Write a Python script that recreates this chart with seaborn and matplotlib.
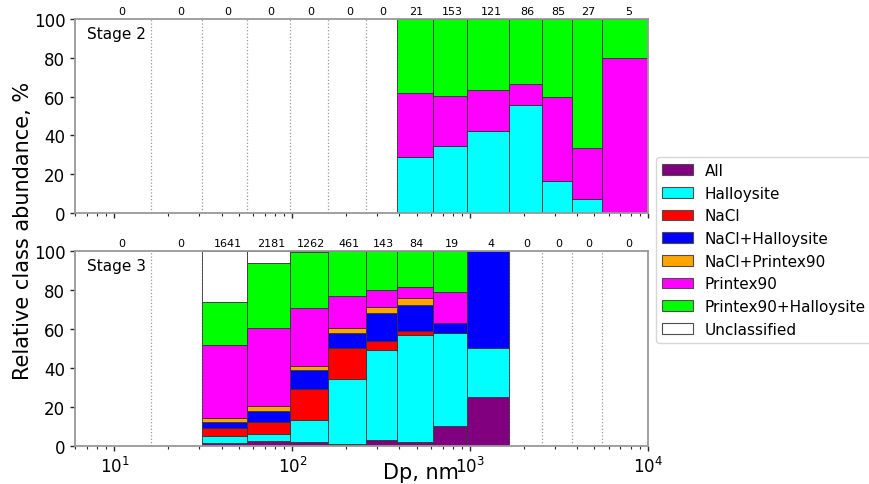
import numpy as np
import pandas as pd
import seaborn as sns
import matplotlib.pyplot as plt
from matplotlib.patches import Patch

# Size bin edges (nm) of the impactor stages
edges = [6, 16, 31, 55.5, 96.5, 158, 261, 386, 615, 963, 1663, 2523, 3752, 5534, 10000]

classes = ["All", "Halloysite", "NaCl", "NaCl+Halloysite", "NaCl+Printex90",
           "Printex90", "Printex90+Halloysite", "Unclassified"]
colors = ["purple", "cyan", "red", "blue", "orange", "magenta", "lime", "white"]

# Particle counts per bin
counts_s2 = [0, 0, 0, 0, 0, 0, 0, 21, 153, 121, 86, 85, 27, 5]
counts_s3 = [0, 0, 1641, 2181, 1262, 461, 143, 84, 19, 4, 0, 0, 0, 0]

# Stage 2, class abundance (%) per bin
s2_all = [0] * 14
s2_hal = [0, 0, 0, 0, 0, 0, 0, 28.6, 34.6, 42.1, 55.8, 16.5, 7.4, 0]
s2_nacl = [0] * 14
s2_naclhal = [0] * 14
s2_naclpr = [0] * 14
s2_pr = [0, 0, 0, 0, 0, 0, 0, 33.3, 25.5, 21.5, 10.5, 43.5, 25.9, 80]
s2_prhal = [0, 0, 0, 0, 0, 0, 0, 38.1, 39.9, 36.4, 33.7, 40.0, 66.7, 20]
s2_uncl = [0] * 14

# Stage 3, class abundance (%) per bin
s3_all = [0, 0, 1.3, 2.4, 2.0, 1.0, 3.2, 2.2, 10.5, 25, 0, 0, 0, 0]
s3_hal = [0, 0, 3.9, 3.5, 11.4, 33.6, 45.9, 54.7, 47.4, 25, 0, 0, 0, 0]
s3_nacl = [0, 0, 4.0, 6.5, 16.0, 15.6, 4.9, 2.3, 0, 0, 0, 0, 0, 0]
s3_naclhal = [0, 0, 3.0, 5.7, 9.8, 7.8, 14.1, 13.1, 5.3, 50, 0, 0, 0, 0]
s3_naclpr = [0, 0, 1.9, 2.5, 2.0, 2.7, 3.4, 3.5, 0, 0, 0, 0, 0, 0]
s3_pr = [0, 0, 37.6, 39.9, 29.6, 16.3, 8.4, 5.9, 15.7, 0, 0, 0, 0, 0]
s3_prhal = [0, 0, 22.4, 33.6, 28.7, 23.0, 20.1, 18.3, 21.1, 0, 0, 0, 0, 0]
s3_uncl = [0, 0, 25.9, 5.9, 0.5, 0, 0, 0, 0, 0, 0, 0, 0, 0]

stage2 = [s2_all, s2_hal, s2_nacl, s2_naclhal, s2_naclpr, s2_pr, s2_prhal, s2_uncl]
stage3 = [s3_all, s3_hal, s3_nacl, s3_naclhal, s3_naclpr, s3_pr, s3_prhal, s3_uncl]

sns.set_theme(style="ticks", rc={"text.color": "black", "axes.labelcolor": "black",
                                 "xtick.color": "black", "ytick.color": "black"})
plt.rcParams["font.family"] = ["DejaVu Sans"]

palette = dict(zip(classes, colors))
log_edges = [float(v) for v in np.log10(edges)]
mids = np.sqrt(np.array(edges[:-1]) * np.array(edges[1:]))
centers = (np.array(edges[:-1]) + np.array(edges[1:])) / 2


def draw_stage(ax, table, counts, name):
    rows = []
    for cls, vals in zip(classes, table):
        for m, v in zip(mids, vals):
            rows.append((m, cls, v))
    df = pd.DataFrame(rows, columns=["dp", "cls", "pct"])

    # dotted bin boundaries behind the bars
    for e in edges[1:-1]:
        ax.axvline(e, color="0.6", ls=":", lw=0.9, zorder=0.5)

    sns.histplot(data=df, x="dp", weights="pct", hue="cls",
                 hue_order=classes[::-1], palette=palette,
                 bins=log_edges, log_scale=True, multiple="stack",
                 element="bars", shrink=1, alpha=1, edgecolor="0.2",
                 linewidth=0.6, legend=False, ax=ax)

    for c, n in zip(centers, counts):
        ax.annotate(str(n), (c, 100), xytext=(0, 2), textcoords="offset points",
                    ha="center", va="bottom", fontsize=8, annotation_clip=False)

    ax.text(0.021, 0.965, name, transform=ax.transAxes, fontsize=11, va="top")
    ax.set_xlim(6, 10000)
    ax.set_ylim(0, 100)
    ax.set_yticks([0, 20, 40, 60, 80, 100])
    ax.set_xlabel("")
    ax.set_ylabel("")
    for sp in ax.spines.values():
        sp.set_visible(True)
        sp.set_color("0.6")
        sp.set_linewidth(1.3)
    ax.tick_params(axis="both", which="major", labelsize=12, length=3.5,
                   width=1, color="0.15")
    ax.tick_params(axis="x", which="minor", length=2.2, width=0.8, color="0.15")


fig = plt.figure(figsize=(8.7, 4.85), dpi=100)
ax1 = fig.add_axes([0.0862, 0.5588, 0.6586, 0.4])
ax2 = fig.add_axes([0.0862, 0.0784, 0.6586, 0.402])

draw_stage(ax1, stage2, counts_s2, "Stage 2")
draw_stage(ax2, stage3, counts_s3, "Stage 3")
ax1.tick_params(axis="x", which="both", labelbottom=False)

fig.text(0.027, 0.524, "Relative class abundance, %", rotation=90,
         fontsize=15, ha="center", va="center")
fig.text(0.484, 0.025, "Dp, nm", fontsize=15, ha="center", va="center")

handles = [Patch(facecolor=c, edgecolor="0.3", linewidth=0.8) for c in colors]
fig.legend(handles, classes, loc="upper left",
           bbox_to_anchor=(656 / 870, 1 - 158 / 485), fontsize=11,
           frameon=True, borderaxespad=0)

fig.savefig("out.png", dpi=100)
